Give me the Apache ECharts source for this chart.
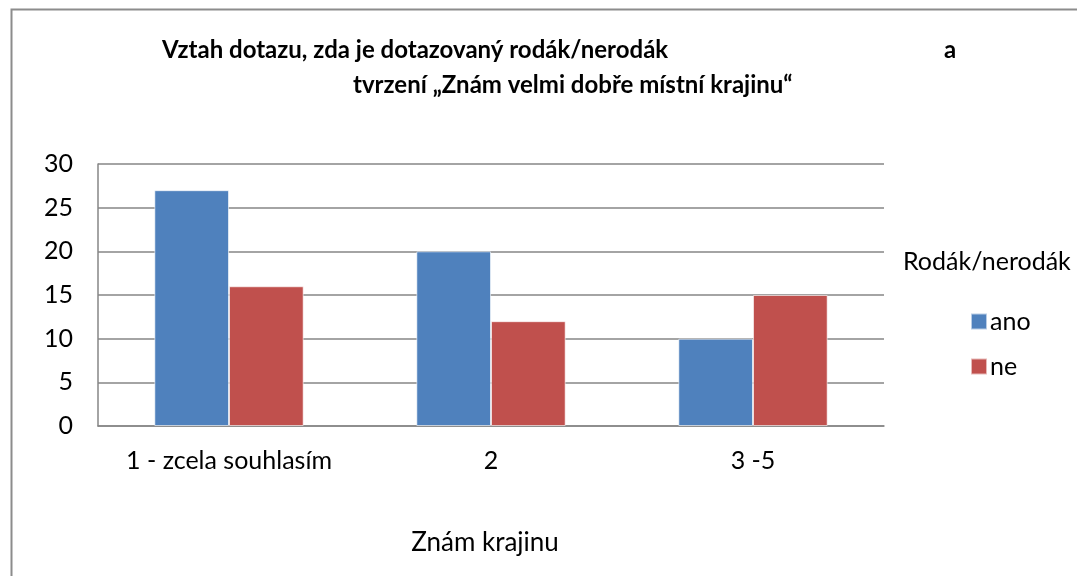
<!DOCTYPE html>
<html>
<head>
<meta charset="utf-8">
<script src="https://cdn.jsdelivr.net/npm/echarts@6/dist/echarts.min.js"></script>
<style>
  html, body { margin: 0; padding: 0; background: #fff; }
  #graf { width: 1077px; height: 576px; }
</style>
</head>
<body>
<div id="graf"></div>
<script>
// data
var kategorie = ['1 - zcela souhlasím', '2', '3 -5'];
var ano = [27, 20, 10];
var ne = [16, 12, 15];
var osaY = { min: 0, max: 30, krok: 5 };

var font = 'Lato, "Open Sans", sans-serif';

var graf = echarts.init(document.getElementById('graf'));
var moznosti = {
    backgroundColor: '#ffffff',
    animation: false,
    color: ['#4F81BD', '#C0504D'],

    // titles (two lines, the lone "a" sits far right as in the original)
    title: [
        {
            text: 'Vztah dotazu, zda je dotazovaný rodák/nerodák',
            left: 157, top: 33,
            textStyle: { fontFamily: font, fontWeight: 'bold', fontSize: 24, color: '#000' }
        },
        {
            text: 'a',
            left: 939, top: 33,
            textStyle: { fontFamily: font, fontWeight: 'bold', fontSize: 24, color: '#000' }
        },
        {
            text: 'tvrzení „Znám velmi dobře místní krajinu“',
            left: 348, top: 68,
            textStyle: { fontFamily: font, fontWeight: 'bold', fontSize: 24, color: '#000' }
        },
        {
            text: 'Rodák/nerodák',
            left: 898, top: 244,
            textStyle: { fontFamily: font, fontWeight: 'normal', fontSize: 25, color: '#000' }
        }
    ],

    legend: {
        orient: 'vertical',
        left: 965, top: 304,
        itemWidth: 16, itemHeight: 16,
        itemGap: 20,
        icon: 'rect',
        data: ['ano', 'ne'],
        textStyle: { fontFamily: font, fontSize: 25, color: '#000', padding: [0, 0, 0, -2] }
    },

    grid: { left: 98, right: 193, top: 164, bottom: 150 },

    xAxis: {
        type: 'category',
        data: kategorie,
        name: 'Znám krajinu',
        nameLocation: 'middle',
        nameGap: 104,
        nameTextStyle: { fontFamily: font, fontSize: 26, color: '#000', padding: [0, 12, 0, 0] },
        axisLine: { lineStyle: { color: '#868686', width: 1.5 } },
        axisTick: { show: false },
        axisLabel: { interval: 0, hideOverlap: false, fontFamily: font, fontSize: 25, color: '#000', margin: 22 }
    },

    yAxis: {
        type: 'value',
        min: osaY.min, max: osaY.max, interval: osaY.krok,
        axisLine: { show: true, lineStyle: { color: '#868686', width: 1.5 } },
        axisTick: { show: false },
        axisLabel: { fontFamily: font, fontSize: 25, color: '#000', margin: 25 },
        splitLine: { lineStyle: { color: '#868686', width: 1.5 } }
    },

    series: [
        {
            name: 'ano',
            type: 'bar',
            data: ano,
            barGap: '0%',
            barCategoryGap: '43%',
            itemStyle: { borderColor: 'rgba(255,255,255,0.6)', borderWidth: 1 }
        },
        {
            name: 'ne',
            type: 'bar',
            data: ne,
            barGap: '0%',
            barCategoryGap: '43%',
            itemStyle: { borderColor: 'rgba(255,255,255,0.6)', borderWidth: 1 }
        }
    ],

    // outer frame of the chart (right and bottom edges fall outside the picture)
    graphic: [{
        type: 'rect',
        shape: { x: 11.5, y: 9.5, width: 1200, height: 700 },
        style: { fill: 'none', stroke: '#8c8c8c', lineWidth: 2 },
        silent: true
    }]
};
graf.setOption(moznosti);
</script>
</body>
</html>
